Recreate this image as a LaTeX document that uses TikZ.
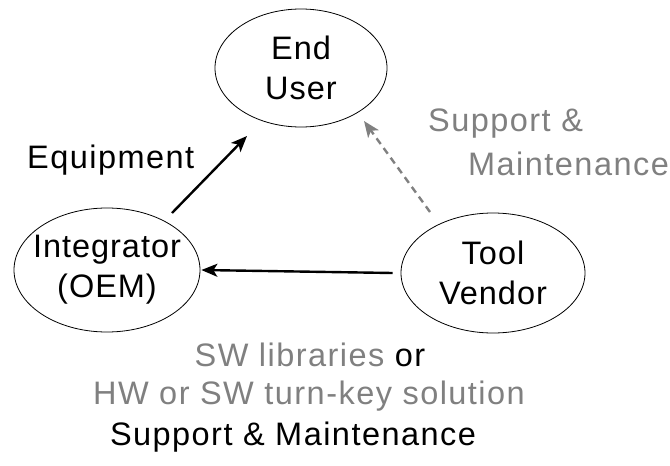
\documentclass[tikz,border=0pt]{standalone}
\usepackage{fontspec}
\setmainfont[LetterSpace=4.5]{Liberation Sans}
\usetikzlibrary{arrows.meta,shapes.geometric}
\definecolor{softgray}{gray}{0.5}
\begin{document}
\begin{tikzpicture}[x=1pt,y=-1pt,
  party/.style={ellipse,draw,line width=0.8pt,inner sep=-30pt,align=center,
    font=\fontsize{32.5}{40}\selectfont\addfontfeature{LetterSpace=3}},
  lbl/.style={inner sep=0pt,align=center,font=\fontsize{32.5}{40}\selectfont},
  arr/.style={line width=2.4pt,-{Stealth[length=16pt,width=13pt,inset=4pt]}},
  darr/.style={arr,softgray,dash pattern=on 7pt off 5pt}]
\useasboundingbox (0,0) rectangle (670,466);
% the three parties
\node[party,minimum width=172pt,minimum height=118pt] (end)  at (301,68)  {End\\User};
\node[party,minimum width=186pt,minimum height=124pt] (intg) at (107,270) {Integrator\\(OEM)};
\node[party,minimum width=184pt,minimum height=120pt] (tool) at (493,273) {Tool\\Vendor};
% connector ends
\coordinate (eqA) at (172,213);
\coordinate (eqB) at (247,136);
\coordinate (smA) at (430,212);
\coordinate (smB) at (364,121);
% connectors
\draw[arr] (eqA) -- (eqB);
\draw[darr] (smA) -- (smB);
\draw[arr] ([xshift=-8pt]tool.west) -- ([xshift=1pt]intg.east);
% labels
\node[lbl,anchor=west] (eqL) at (27,160) {Equipment};
\node[lbl,anchor=west,softgray] (smL1) at (428,124) {Support \&};
\node[lbl,anchor=west,softgray] (smL2) at (468,164) {Maintenance};
\node[lbl] (b1) at (310,355) {\textcolor{softgray}{SW libraries} or};
\node[lbl,softgray] (b2) at (309,396) {HW or SW turn-key solution};
\node[lbl] (b3) at (293,437) {Support \& Maintenance};
\end{tikzpicture}
\end{document}
